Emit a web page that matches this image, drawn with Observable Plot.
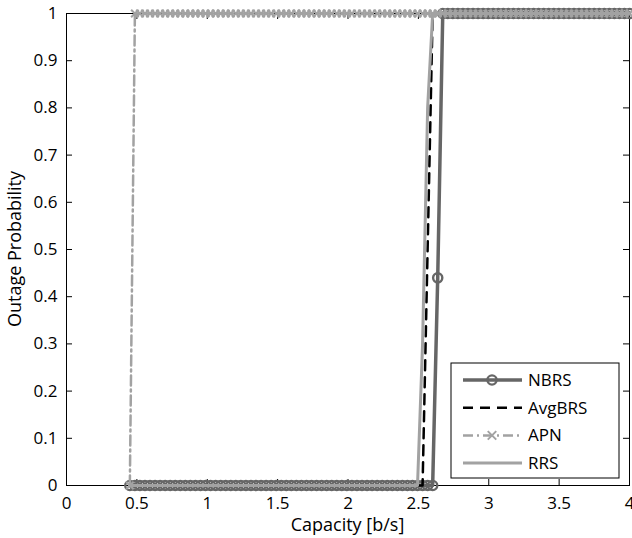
<!DOCTYPE html>
<html>
<head>
<meta charset="utf-8">
<script src="https://cdn.jsdelivr.net/npm/d3@7"></script>
<script src="https://cdn.jsdelivr.net/npm/@observablehq/plot@0.6"></script>
<style>
  html, body { margin: 0; padding: 0; background: #fff; }
  #chart { position: relative; width: 632px; height: 538px; }
</style>
</head>
<body>
<div id="chart"></div>
<script>
// Capacity grid (b/s)
const capacity = [
  0.4500, 0.4859, 0.5217, 0.5576, 0.5934, 0.6293, 0.6652, 0.7010, 0.7369, 0.7727,
  0.8086, 0.8444, 0.8803, 0.9162, 0.9520, 0.9879, 1.0237, 1.0596, 1.0955, 1.1313,
  1.1672, 1.2030, 1.2389, 1.2747, 1.3106, 1.3465, 1.3823, 1.4182, 1.4540, 1.4899,
  1.5258, 1.5616, 1.5975, 1.6333, 1.6692, 1.7051, 1.7409, 1.7768, 1.8126, 1.8485,
  1.8843, 1.9202, 1.9561, 1.9919, 2.0278, 2.0636, 2.0995, 2.1354, 2.1712, 2.2071,
  2.2429, 2.2788, 2.3146, 2.3505, 2.3864, 2.4222, 2.4581, 2.4939, 2.5298, 2.5657,
  2.6015, 2.6374, 2.6732, 2.7091, 2.7449, 2.7808, 2.8167, 2.8525, 2.8884, 2.9242,
  2.9601, 2.9960, 3.0318, 3.0677, 3.1035, 3.1394, 3.1753, 3.2111, 3.2470, 3.2828,
  3.3187, 3.3545, 3.3904, 3.4263, 3.4621, 3.4980, 3.5338, 3.5697, 3.6056, 3.6414,
  3.6773, 3.7131, 3.7490, 3.7848, 3.8207, 3.8566, 3.8924, 3.9283, 3.9641, 4.0000
];
const nbrs = [
  0,0,0,0,0,0,0,0,0,0,
  0,0,0,0,0,0,0,0,0,0,
  0,0,0,0,0,0,0,0,0,0,
  0,0,0,0,0,0,0,0,0,0,
  0,0,0,0,0,0,0,0,0,0,
  0,0,0,0,0,0,0,0,0,0,
  0,0.44,1,1,1,1,1,1,1,1,
  1,1,1,1,1,1,1,1,1,1,
  1,1,1,1,1,1,1,1,1,1,
  1,1,1,1,1,1,1,1,1,1
];
const avgbrs = [
  0,0,0,0,0,0,0,0,0,0,
  0,0,0,0,0,0,0,0,0,0,
  0,0,0,0,0,0,0,0,0,0,
  0,0,0,0,0,0,0,0,0,0,
  0,0,0,0,0,0,0,0,0,0,
  0,0,0,0,0,0,0,0,0,0.5,
  1,1,1,1,1,1,1,1,1,1,
  1,1,1,1,1,1,1,1,1,1,
  1,1,1,1,1,1,1,1,1,1,
  1,1,1,1,1,1,1,1,1,1
];
const apn = [
  0,1,1,1,1,1,1,1,1,1,
  1,1,1,1,1,1,1,1,1,1,
  1,1,1,1,1,1,1,1,1,1,
  1,1,1,1,1,1,1,1,1,1,
  1,1,1,1,1,1,1,1,1,1,
  1,1,1,1,1,1,1,1,1,1,
  1,1,1,1,1,1,1,1,1,1,
  1,1,1,1,1,1,1,1,1,1,
  1,1,1,1,1,1,1,1,1,1,
  1,1,1,1,1,1,1,1,1,1
];
const rrs = [
  0,0,0,0,0,0,0,0,0,0,
  0,0,0,0,0,0,0,0,0,0,
  0,0,0,0,0,0,0,0,0,0,
  0,0,0,0,0,0,0,0,0,0,
  0,0,0,0,0,0,0,0,0,0,
  0,0,0,0,0,0,0,0,0.3,0.8,
  1,1,1,1,1,1,1,1,1,1,
  1,1,1,1,1,1,1,1,1,1,
  1,1,1,1,1,1,1,1,1,1,
  1,1,1,1,1,1,1,1,1,1
];
const seriesNames = ["NBRS", "AvgBRS", "APN", "RRS"];
const xTicks = [0, 0.5, 1, 1.5, 2, 2.5, 3, 3.5, 4];
const xTickLabels = ["0", "0.5", "1", "1.5", "2", "2.5", "3", "3.5", "4"];
const yTicks = [0, 0.1, 0.2, 0.3, 0.4, 0.5, 0.6, 0.7, 0.8, 0.9, 1];
const yTickLabels = ["0", "0.1", "0.2", "0.3", "0.4", "0.5", "0.6", "0.7", "0.8", "0.9", "1"];
const xLabel = "Capacity [b/s]";
const yLabel = "Outage Probability";

const DARK = "#666666", LIGHT = "#a2a2a2";
const FONT = "'Open Sans', sans-serif";
const rows = capacity.map((c, i) => ({c, nbrs: nbrs[i], avgbrs: avgbrs[i], apn: apn[i], rrs: rrs[i]}));

const W = 632, H = 538, ML = 66, MR = 3, MT = 13, MB = 53;
const plotH = H - MT - MB, plotW = W - ML - MR;
const TL = 6;

const chart = Plot.plot({
  width: W, height: H,
  marginLeft: ML, marginRight: MR, marginTop: MT, marginBottom: MB,
  style: {fontFamily: FONT, fontSize: "17px", color: "#000", background: "#fff", overflow: "visible"},
  x: {domain: [0, 4], label: null},
  y: {domain: [0, 1], label: null},
  marks: [
    Plot.frame({stroke: "#000", strokeWidth: 1}),
    // inward ticks on all four sides
    Plot.tickX(xTicks, {x: d => d, insetTop: plotH - TL, stroke: "#000"}),
    Plot.tickX(xTicks, {x: d => d, insetBottom: plotH - TL, stroke: "#000"}),
    Plot.tickY(yTicks, {y: d => d, insetRight: plotW - TL, stroke: "#000"}),
    Plot.tickY(yTicks, {y: d => d, insetLeft: plotW - TL, stroke: "#000"}),
    Plot.axisX({ticks: xTicks, tickSize: 0, tickPadding: 11, tickFormat: (d, i) => xTickLabels[i],
      label: null, fontSize: 17}),
    Plot.axisY({ticks: yTicks, tickSize: 0, tickPadding: 9, tickFormat: (d, i) => yTickLabels[i],
      label: null, fontSize: 17}),
    // NBRS
    Plot.line(rows, {x: "c", y: "nbrs", stroke: DARK, strokeWidth: 3.5}),
    Plot.dot(rows, {x: "c", y: "nbrs", r: 4.6, stroke: DARK, strokeWidth: 2.4, fill: "none"}),
    // AvgBRS
    Plot.line(rows, {x: "c", y: "avgbrs", stroke: "#000", strokeWidth: 2.5, strokeDasharray: "10,7"}),
    // APN
    Plot.line(rows, {x: "c", y: "apn", stroke: LIGHT, strokeWidth: 2.5, strokeDasharray: "10,4,2,4"}),
    Plot.dot(rows, {x: "c", y: "apn", symbol: "times", r: 3.5, stroke: LIGHT, strokeWidth: 2}),
    // RRS
    Plot.line(rows, {x: "c", y: "rrs", stroke: LIGHT, strokeWidth: 3})
  ]
});
document.getElementById("chart").appendChild(chart);

const svg = d3.select(chart);
// Axis titles
svg.append("text").attr("x", ML + plotW / 2).attr("y", 531).attr("text-anchor", "middle")
  .attr("font-family", FONT).attr("font-size", 18).attr("fill", "#000").text(xLabel);
svg.append("text").attr("transform", `translate(21,${MT + plotH / 2}) rotate(-90)`).attr("text-anchor", "middle")
  .attr("font-family", FONT).attr("font-size", 18).attr("fill", "#000").text(yLabel);

// Legend (MATLAB-style box inside the axes)
const lg = svg.append("g").attr("font-family", FONT).attr("font-size", 17).attr("text-anchor", "start");
const bx = 451, by = 363, bw = 168, bh = 115;
lg.append("rect").attr("x", bx).attr("y", by).attr("width", bw).attr("height", bh)
  .attr("fill", "#fff").attr("stroke", "#000").attr("stroke-width", 1);
const styles = [
  {stroke: DARK, w: 3.5, dash: null, marker: "circle", mstroke: DARK},
  {stroke: "#000", w: 2.5, dash: "10,7", marker: null},
  {stroke: LIGHT, w: 2.5, dash: "10,4,2,4", marker: "times", mstroke: LIGHT},
  {stroke: LIGHT, w: 3, dash: null, marker: null}
];
seriesNames.forEach((name, i) => {
  const yy = 380 + i * 27.7;
  const s = styles[i];
  lg.append("line").attr("x1", 463).attr("x2", 522).attr("y1", yy).attr("y2", yy)
    .attr("stroke", s.stroke).attr("stroke-width", s.w).attr("stroke-dasharray", s.dash);
  if (s.marker === "circle") {
    lg.append("circle").attr("cx", 492).attr("cy", yy).attr("r", 4.6)
      .attr("fill", "none").attr("stroke", s.mstroke).attr("stroke-width", 2.4);
  } else if (s.marker === "times") {
    lg.append("path").attr("d", d3.symbol(d3.symbolTimes, 3.5 * 3.5 * 4)())
      .attr("transform", `translate(492,${yy})`).attr("fill", "none")
      .attr("stroke", s.mstroke).attr("stroke-width", 2);
  }
  lg.append("text").attr("x", 528).attr("y", yy).attr("dy", "0.35em").attr("fill", "#000").text(name);
});
</script>
</body>
</html>
